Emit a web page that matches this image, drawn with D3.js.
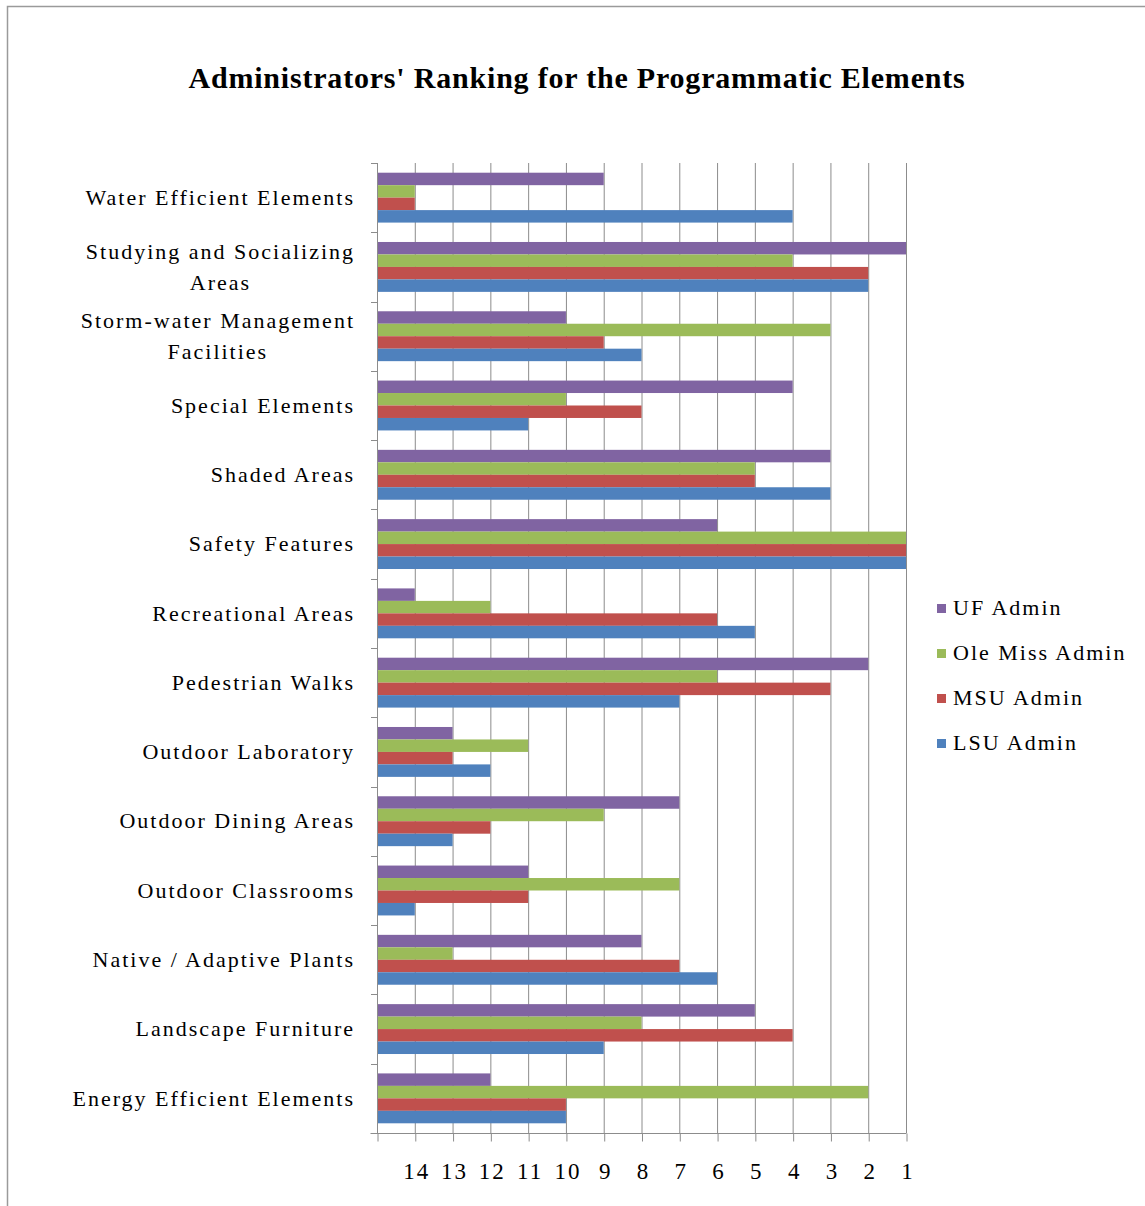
<!DOCTYPE html>
<html>
<head>
<meta charset="utf-8">
<script src="https://cdn.jsdelivr.net/npm/d3@7"></script>
<style>
  html, body { margin: 0; padding: 0; background: #fff; }
  svg { display: block; }
  text { font-family: "Liberation Serif", "Times New Roman", serif; fill: #000; }
</style>
</head>
<body>
<svg id="chart" width="1145" height="1206"></svg>
<script>
// Programmatic elements, listed top to bottom
const categories = [
  "Water Efficient Elements",
  "Studying and Socializing|Areas",
  "Storm-water Management|Facilities",
  "Special Elements",
  "Shaded Areas",
  "Safety Features",
  "Recreational Areas",
  "Pedestrian Walks",
  "Outdoor Laboratory",
  "Outdoor Dining Areas",
  "Outdoor Classrooms",
  "Native / Adaptive Plants",
  "Landscape Furniture",
  "Energy Efficient Elements"
];

const seriesNames = ["UF Admin", "Ole Miss Admin", "MSU Admin", "LSU Admin"];
const seriesColors = ["#8064A2", "#9BBB59", "#C0504D", "#4F81BD"];

// Rank (1 = highest) given by each administration, in category order
const ufAdmin      = [9, 1, 10, 4, 3, 6, 14, 2, 13, 7, 11, 8, 5, 12];
const oleMissAdmin = [14, 4, 3, 10, 5, 1, 12, 6, 11, 9, 7, 13, 8, 2];
const msuAdmin     = [14, 2, 9, 8, 5, 1, 6, 3, 13, 12, 11, 7, 4, 10];
const lsuAdmin     = [4, 2, 8, 11, 3, 1, 5, 7, 12, 13, 14, 6, 9, 10];

const rankTicks = [14, 13, 12, 11, 10, 9, 8, 7, 6, 5, 4, 3, 2, 1];

const seriesValues = [ufAdmin, oleMissAdmin, msuAdmin, lsuAdmin];

const svg = d3.select("#chart");

// chart frame
svg.append("rect")
  .attr("x", 7.5).attr("y", 6.5)
  .attr("width", 1150).attr("height", 1210)
  .attr("fill", "none").attr("stroke", "#9a9a9a").attr("stroke-width", 1.5);

const plot = { left: 377, right: 906, top: 163, bottom: 1133 };

// Reversed rank axis: bars grow from the left edge (15) toward rank 1
const x = d3.scaleLinear().domain([15, 1]).range([plot.left, plot.right]);

const y = d3.scaleBand()
  .domain(categories)
  .range([plot.top, plot.bottom])
  .paddingInner(0.28)
  .paddingOuter(0.14);

const ySub = d3.scaleBand()
  .domain(seriesNames)
  .range([0, y.bandwidth()]);

// title
svg.append("text")
  .attr("x", 577).attr("y", 88)
  .attr("text-anchor", "middle")
  .style("font-size", "30px")
  .style("font-weight", "bold")
  .style("letter-spacing", "0.8px")
  .text("Administrators' Ranking for the Programmatic Elements");

// vertical gridlines
svg.append("g")
  .selectAll("line")
  .data(rankTicks)
  .join("line")
  .attr("x1", d => x(d) + 0.5).attr("x2", d => x(d) + 0.5)
  .attr("y1", plot.top).attr("y2", plot.bottom)
  .attr("stroke", "#8c8c8c").attr("stroke-width", 1);

// bars
const groups = svg.append("g")
  .selectAll("g")
  .data(categories)
  .join("g")
  .attr("transform", d => `translate(0,${y(d)})`);

groups.selectAll("rect")
  .data((c, i) => seriesNames.map((s, k) => ({ s, k, v: seriesValues[k][i] })))
  .join("rect")
  .attr("x", plot.left)
  .attr("y", d => ySub(d.s))
  .attr("width", d => x(d.v) - plot.left)
  .attr("height", ySub.bandwidth())
  .attr("fill", d => seriesColors[d.k]);

// category axis (left)
const yAxisG = svg.append("g");
yAxisG.append("line")
  .attr("x1", plot.left + 0.5).attr("x2", plot.left + 0.5)
  .attr("y1", plot.top).attr("y2", plot.bottom)
  .attr("stroke", "#8c8c8c");
const boundaries = d3.range(categories.length + 1).map(i => plot.top + i * (plot.bottom - plot.top) / categories.length);
yAxisG.selectAll("line.tick")
  .data(boundaries)
  .join("line")
  .attr("class", "tick")
  .attr("x1", plot.left - 6).attr("x2", plot.left)
  .attr("y1", d => Math.round(d) + 0.5).attr("y2", d => Math.round(d) + 0.5)
  .attr("stroke", "#8c8c8c");

// category labels: right-aligned blocks, wrapped lines centred within the block
const labelRight = 355;
categories.forEach(c => {
  const lines = c.split("|");
  const cy = y(c) + y.bandwidth() / 2;
  const t = svg.append("text")
    .attr("text-anchor", "middle")
    .style("font-size", "22px")
    .style("letter-spacing", "2px");
  const lh = 31;
  lines.forEach((ln, i) => {
    t.append("tspan")
      .attr("x", 0)
      .attr("y", cy + (i - (lines.length - 1) / 2) * lh)
      .attr("dy", "0.33em")
      .text(ln);
  });
  const w = t.node().getBBox().width;
  t.attr("transform", `translate(${labelRight - w / 2},0)`);
});

// rank axis (bottom)
const xAxis = d3.axisBottom(x)
  .tickValues([15].concat(rankTicks))
  .tickSize(8)
  .tickFormat(d => d === 15 ? "" : d);
const xAxisG = svg.append("g")
  .attr("transform", `translate(0.5,${plot.bottom + 0.5})`)
  .call(xAxis);
xAxisG.select(".domain")
  .attr("d", `M${plot.left - 7},0H${plot.right}`)
  .attr("stroke", "#8c8c8c");
xAxisG.selectAll(".tick line").attr("stroke", "#8c8c8c");
xAxisG.selectAll(".tick text")
  .attr("y", 45)
  .attr("dy", null)
  .attr("dx", "1px")
  .style("font-family", "'Liberation Serif', serif")
  .style("font-size", "23px")
  .style("letter-spacing", "2px")
  .attr("fill", "#000");

// legend
const legend = svg.append("g").attr("transform", "translate(937,608)");
seriesNames.forEach((s, k) => {
  const g = legend.append("g").attr("transform", `translate(0,${k * 45})`);
  g.append("rect")
    .attr("x", 0).attr("y", -4)
    .attr("width", 9).attr("height", 9)
    .attr("fill", seriesColors[k]);
  g.append("text")
    .attr("x", 16).attr("y", 0).attr("dy", "0.33em")
    .style("font-size", "22px")
    .style("letter-spacing", "2px")
    .text(s);
});
</script>
</body>
</html>
